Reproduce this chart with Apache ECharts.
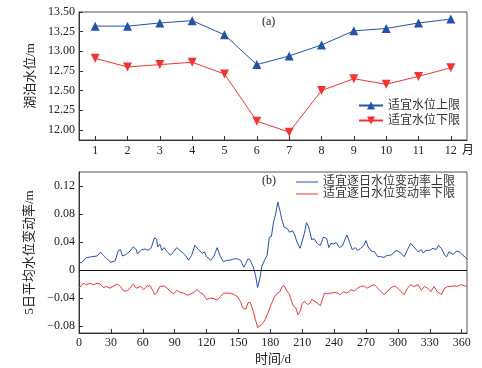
<!DOCTYPE html>
<html><head><meta charset="utf-8">
<script src="https://cdn.jsdelivr.net/npm/echarts@6/dist/echarts.min.js"></script>
<style>html,body{margin:0;padding:0;background:#fff}#c{width:482px;height:368px}</style>
</head><body><div id="c"></div>
<script>
var months = [1,2,3,4,5,6,7,8,9,10,11,12];
var upperLevel = [13.32,13.32,13.36,13.39,13.21,12.83,12.94,13.08,13.26,13.29,13.36,13.41];
var lowerLevel = [12.91,12.80,12.83,12.86,12.71,12.11,11.97,12.50,12.65,12.58,12.68,12.79];
var levelTicks = [12.00,12.25,12.50,12.75,13.00,13.25,13.50];
var rateTicks = [-0.08,-0.04,0,0.04,0.08,0.12];
var dayTicks = [0,30,60,90,120,150,180,210,240,270,300,330,360];
var upperRate = [[0,0.012],[2,0.010],[7,0.0175],[12,0.019],[17,0.020],[20,0.0255],[23,0.021],[26,0.0165],[30,0.011],[34,0.013],[37,0.028],[39,0.029],[41,0.020],[44,0.022],[48,0.027],[51,0.033],[54,0.029],[55,0.023],[59,0.029],[62,0.030],[65,0.028],[68,0.032],[71,0.046],[73,0.044],[74,0.033],[76,0.037],[78,0.028],[80,0.032],[83,0.026],[86,0.021],[89,0.026],[92,0.032],[95,0.028],[98,0.024],[101,0.019],[103,0.014],[106,0.021],[109,0.0355],[113,0.028],[116,0.024],[118,0.026],[120,0.019],[124,0.014],[127,0.020],[130,0.032],[131,0.031],[133,0.019],[136,0.012],[139,0.014],[142,0.014],[146,0.016],[149,0.016],[152,0.014],[155,0.004],[157,0.0095],[159,0.016],[161,0.014],[164,0.004],[166,-0.007],[168,-0.025],[170,-0.013],[172,0.005],[175,0.0155],[177,0.021],[179,0.047],[181,0.048],[183,0.0685],[185,0.080],[187,0.097],[189,0.085],[191,0.071],[193,0.061],[196,0.059],[198,0.054],[201,0.056],[203,0.050],[205,0.040],[208,0.031],[209,0.029],[212,0.052],[214,0.0676],[216,0.062],[219,0.043],[221,0.045],[224,0.038],[227,0.035],[230,0.047],[233,0.045],[235,0.032],[237,0.038],[239,0.037],[242,0.039],[245,0.032],[248,0.035],[250,0.043],[252,0.050],[255,0.038],[257,0.029],[260,0.032],[262,0.028],[265,0.031],[268,0.035],[270,0.042],[272,0.033],[275,0.027],[278,0.026],[279,0.028],[281,0.019],[284,0.019],[287,0.018],[290,0.021],[293,0.021],[296,0.024],[298,0.028],[301,0.026],[303,0.024],[306,0.019],[309,0.029],[312,0.038],[315,0.033],[319,0.026],[322,0.029],[324,0.024],[326,0.028],[330,0.028],[333,0.031],[336,0.029],[338,0.035],[341,0.031],[344,0.021],[346,0.019],[348,0.026],[352,0.022],[355,0.027],[358,0.026],[361,0.021],[363,0.019],[365,0.0155]];
var lowerRate = [[0,-0.026],[4,-0.019],[7,-0.021],[10,-0.019],[14,-0.021],[17,-0.019],[20,-0.020],[23,-0.025],[26,-0.0235],[29,-0.026],[32,-0.0235],[36,-0.020],[39,-0.0235],[42,-0.030],[45,-0.030],[48,-0.026],[51,-0.020],[54,-0.026],[58,-0.0235],[61,-0.028],[64,-0.0226],[67,-0.0226],[70,-0.031],[71,-0.035],[73,-0.033],[76,-0.0235],[80,-0.0226],[83,-0.026],[86,-0.031],[89,-0.034],[92,-0.029],[95,-0.032],[98,-0.033],[102,-0.036],[105,-0.034],[108,-0.032],[111,-0.028],[114,-0.032],[117,-0.035],[120,-0.042],[124,-0.040],[127,-0.041],[130,-0.043],[133,-0.038],[136,-0.033],[139,-0.033],[142,-0.033],[146,-0.035],[149,-0.038],[152,-0.045],[154,-0.054],[157,-0.056],[159,-0.047],[161,-0.046],[164,-0.059],[166,-0.071],[168,-0.082],[170,-0.080],[172,-0.078],[175,-0.071],[177,-0.064],[180,-0.052],[182,-0.045],[184,-0.038],[186,-0.034],[189,-0.031],[191,-0.0235],[193,-0.0226],[196,-0.031],[198,-0.035],[200,-0.045],[202,-0.052],[204,-0.054],[206,-0.064],[208,-0.059],[210,-0.048],[212,-0.045],[215,-0.049],[217,-0.048],[219,-0.042],[222,-0.045],[224,-0.047],[227,-0.051],[229,-0.042],[231,-0.033],[234,-0.034],[237,-0.033],[240,-0.032],[243,-0.033],[246,-0.035],[249,-0.031],[252,-0.033],[256,-0.028],[259,-0.030],[262,-0.026],[265,-0.0235],[268,-0.0226],[271,-0.026],[275,-0.0226],[278,-0.021],[281,-0.026],[284,-0.031],[287,-0.035],[290,-0.031],[293,-0.026],[297,-0.0226],[300,-0.026],[303,-0.031],[306,-0.035],[309,-0.026],[312,-0.021],[315,-0.0235],[319,-0.021],[322,-0.029],[325,-0.0235],[328,-0.026],[331,-0.031],[334,-0.0235],[337,-0.031],[341,-0.035],[344,-0.026],[347,-0.0235],[350,-0.0235],[353,-0.0226],[356,-0.0235],[359,-0.021],[363,-0.0226],[365,-0.0235]];

var FONT = '"Liberation Serif", "Noto Sans CJK SC", serif';
var BLUE = '#2352a8', RED = '#f23434', AX = '#333';
var chart = echarts.init(document.getElementById('c'), null, {renderer:'canvas'});
function axisCommon() {
  return {
    axisLine:{show:true, onZero:false, lineStyle:{color:AX, width:1}},
    axisTick:{show:true, inside:true, length:4, lineStyle:{color:AX}},
    splitLine:{show:false},
    axisLabel:{color:'#222', fontFamily:FONT, fontSize:12, margin:4}
  };
}
var xa0 = axisCommon(), ya0 = axisCommon(), xa1 = axisCommon(), ya1 = axisCommon();
Object.assign(xa0, {type:'value', gridIndex:0, min:0.5, max:12.5, name:'月', nameLocation:'end', nameGap:-5,
  nameTextStyle:{color:'#222', fontFamily:FONT, fontSize:12, verticalAlign:'top', padding:[5,0,0,0]}});
xa0.axisLabel.customValues = months; xa0.axisTick.customValues = months; xa0.axisLabel.margin = 5;
Object.assign(ya0, {type:'value', gridIndex:0, min:11.87, max:13.5, name:'湖泊水位/m', nameLocation:'middle', nameGap:35,
  nameTextStyle:{color:'#222', fontFamily:FONT, fontSize:13}});
ya0.axisLabel.customValues = levelTicks; ya0.axisTick.customValues = levelTicks;
ya0.axisLabel.formatter = function(v){return v.toFixed(2);};
Object.assign(xa1, {type:'value', gridIndex:1, min:0, max:365, name:'时间/d', nameLocation:'middle', nameGap:20,
  nameTextStyle:{color:'#222', fontFamily:FONT, fontSize:13}});
xa1.axisLabel.customValues = dayTicks; xa1.axisTick.customValues = dayTicks;
Object.assign(ya1, {type:'value', gridIndex:1, min:-0.09, max:0.14, name:'5日平均水位变动率/m', nameLocation:'middle', nameGap:35,
  nameTextStyle:{color:'#222', fontFamily:FONT, fontSize:13}});
ya1.axisLabel.customValues = rateTicks; ya1.axisTick.customValues = rateTicks;
ya1.axisLabel.formatter = function(v){ if (Math.abs(v) < 1e-9) return '0'; var s = Math.abs(v).toFixed(2); return v < 0 ? '\u2212' + s : s; };

chart.setOption({
  animation:false,
  backgroundColor:'#fff',
  grid:[
    {left:79, top:12, width:388, height:128, show:true, borderColor:'#555', borderWidth:1},
    {left:79, top:172, width:388, height:161, show:true, borderColor:'#555', borderWidth:1}
  ],
  xAxis:[xa0, xa1],
  yAxis:[ya0, ya1],
  legend:[
    {orient:'vertical', left:358, top:99, itemWidth:24, itemHeight:10, itemGap:2, padding:0,
     textStyle:{color:'#333', fontFamily:FONT, fontSize:12, lineHeight:13},
     data:['适宜水位上限','适宜水位下限']},
    {orient:'vertical', left:296, top:176, itemWidth:22, itemHeight:8, itemGap:0, padding:0, icon:'path://M0,4L22,4L22,5L0,5Z',
     textStyle:{color:'#333', fontFamily:FONT, fontSize:12, lineHeight:12},
     data:[{name:'适宜逐日水位变动率上限', itemStyle:{color:BLUE}},{name:'适宜逐日水位变动率下限', itemStyle:{color:RED}}]}
  ],
  graphic:[
    {type:'text', left:262, top:16, style:{text:'(a)', font:'12px ' + FONT, fill:'#222'}},
    {type:'text', left:262, top:175, style:{text:'(b)', font:'12px ' + FONT, fill:'#222'}}
  ],
  series:[
    {name:'适宜水位上限', type:'line', xAxisIndex:0, yAxisIndex:0, data:months.map(function(m,i){return [m, upperLevel[i]];}),
     symbol:'triangle', symbolSize:9, itemStyle:{color:BLUE}, lineStyle:{color:BLUE, width:1}},
    {name:'适宜水位下限', type:'line', xAxisIndex:0, yAxisIndex:0, data:months.map(function(m,i){return [m, lowerLevel[i]];}),
     symbol:'triangle', symbolRotate:180, symbolSize:9, itemStyle:{color:RED}, lineStyle:{color:RED, width:1}},
    {name:'适宜逐日水位变动率上限', type:'line', xAxisIndex:1, yAxisIndex:1, data:upperRate, showSymbol:false, symbol:'none',
     lineStyle:{color:BLUE, width:1}, itemStyle:{color:BLUE},
     markLine:{silent:true, symbol:'none', label:{show:false}, lineStyle:{color:'#111', width:1, type:'solid'}, data:[{yAxis:0}]}},
    {name:'适宜逐日水位变动率下限', type:'line', xAxisIndex:1, yAxisIndex:1, data:lowerRate, showSymbol:false, symbol:'none',
     lineStyle:{color:RED, width:1}, itemStyle:{color:RED}}
  ]
});
</script></body></html>
